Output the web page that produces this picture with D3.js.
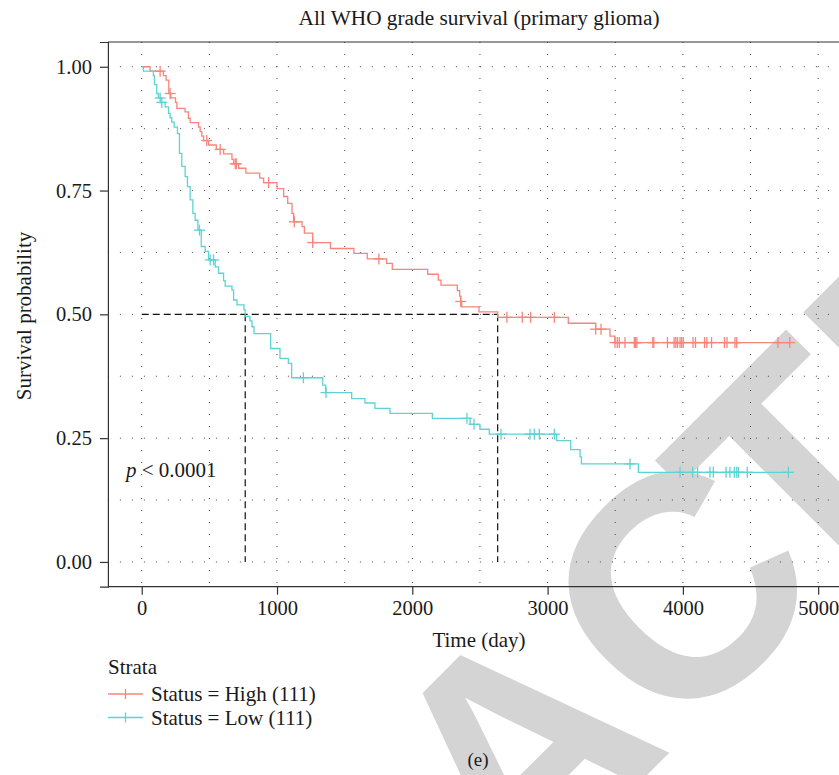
<!DOCTYPE html>
<html><head><meta charset="utf-8">
<script src="https://cdn.jsdelivr.net/npm/d3@7/dist/d3.min.js"></script>
<style>body{margin:0;background:#fff}svg{display:block}</style>
</head><body>
<svg id="chart" width="839" height="775"></svg>
<script>
// ---- data ----
const strata = ["Status = High (111)", "Status = Low (111)"];
const highTime = [0, 62, 160, 180, 200, 215, 250, 260, 320, 345, 358, 420, 432, 444, 457, 494, 551, 605, 667, 679, 716, 770, 872, 901, 1000, 1049, 1079, 1111, 1123, 1185, 1202, 1264, 1395, 1568, 1667, 1810, 1852, 2114, 2192, 2212, 2333, 2350, 2358, 2365, 2493, 2631, 3153, 3355, 3461, 3498];
const highSurv = [1, 0.991, 0.982, 0.973, 0.946, 0.937, 0.928, 0.916, 0.909, 0.896, 0.887, 0.878, 0.869, 0.860, 0.851, 0.842, 0.833, 0.824, 0.813, 0.804, 0.795, 0.785, 0.775, 0.766, 0.754, 0.738, 0.724, 0.704, 0.687, 0.677, 0.664, 0.645, 0.633, 0.623, 0.612, 0.603, 0.591, 0.581, 0.569, 0.559, 0.548, 0.537, 0.526, 0.515, 0.505, 0.494, 0.482, 0.470, 0.456, 0.443];
const highCensor = [136, 210, 481, 580, 691, 699, 938, 1128, 1264, 1753, 2358, 2699, 2813, 2875, 3050, 3355, 3395, 3498, 3515, 3530, 3572, 3641, 3650, 3660, 3778, 3785, 3886, 3935, 3948, 3960, 3979, 3991, 4003, 4075, 4093, 4160, 4177, 4212, 4307, 4326, 4385, 4398, 4703, 4790];
const lowTime = [0, 12, 86, 94, 111, 123, 143, 173, 198, 210, 222, 240, 264, 279, 296, 321, 338, 358, 378, 395, 415, 440, 469, 494, 543, 568, 605, 617, 667, 679, 704, 756, 765, 800, 815, 830, 953, 1022, 1084, 1108, 1338, 1360, 1552, 1650, 1724, 1835, 2148, 2427, 2500, 2569, 3067, 3171, 3240, 3250, 3671];
const lowSurv = [1, 0.991, 0.982, 0.964, 0.946, 0.937, 0.928, 0.919, 0.906, 0.897, 0.888, 0.878, 0.865, 0.825, 0.799, 0.778, 0.758, 0.731, 0.704, 0.690, 0.670, 0.637, 0.627, 0.610, 0.596, 0.583, 0.568, 0.557, 0.549, 0.529, 0.519, 0.509, 0.496, 0.487, 0.475, 0.461, 0.431, 0.411, 0.401, 0.372, 0.357, 0.342, 0.330, 0.321, 0.310, 0.300, 0.290, 0.278, 0.268, 0.258, 0.245, 0.227, 0.212, 0.198, 0.181];
const lowCensor = [136, 148, 427, 506, 531, 1195, 1362, 2404, 2456, 2656, 2870, 2902, 2939, 3050, 3609, 3979, 4072, 4109, 4200, 4225, 4319, 4348, 4380, 4398, 4410, 4476, 4780];
const medianTimes = [765, 2631];
const xTicks = [0, 1000, 2000, 3000, 4000, 5000];
const yTicks = [0, 0.25, 0.5, 0.75, 1];
const xGrid = [0, 500, 1000, 1500, 2000, 2500, 3000, 3500, 4000, 4500, 5000];
const yGrid = [0, 0.125, 0.25, 0.375, 0.5, 0.625, 0.75, 0.875, 1];
const colors = ["#F8847B", "#5FD2D4"];
const titleText = "All WHO grade survival (primary glioma)";
const pText = "< 0.0001";
const watermark = "RETRACTED";

// ---- drawing ----
const svg = d3.select("#chart");
const FONT = "'Liberation Serif', 'Times New Roman', serif";
const FS = 21;
const x = d3.scaleLinear().domain([-250, 5250]).range([107.9, 852]);
const y = d3.scaleLinear().domain([-0.05, 1.05]).range([586.7, 42]);

svg.append("rect").attr("width", 839).attr("height", 775).attr("fill", "#fff");

// watermark behind everything
svg.append("text")
  .attr("transform", "translate(-92,1514) rotate(-45)")
  .attr("font-family", "'Liberation Sans', Arial, sans-serif")
  .attr("font-weight", "bold")
  .attr("font-size", 315)
  .attr("dx", "0 0 0 0 0 0 -43 0 0")
  .attr("fill", "#d4d4d4")
  .text(watermark);

// grid
const g = svg.append("g");
g.selectAll(".vg").data(xGrid).join("line")
  .attr("x1", d => x(d)).attr("x2", d => x(d))
  .attr("y1", y(1.05)).attr("y2", y(-0.05))
  .attr("stroke", "#444").attr("stroke-width", 1).attr("stroke-dasharray", "1,11");
g.selectAll(".hg").data(yGrid).join("line")
  .attr("x1", x(-250)).attr("x2", 839)
  .attr("y1", d => y(d)).attr("y2", d => y(d))
  .attr("stroke", "#444").attr("stroke-width", 1).attr("stroke-dasharray", "1,11");

// median lines
const dash = "7,4";
svg.append("line").attr("x1", x(0)).attr("x2", x(d3.max(medianTimes)))
  .attr("y1", y(0.5)).attr("y2", y(0.5))
  .attr("stroke", "#111").attr("stroke-width", 1.2).attr("stroke-dasharray", dash);
svg.selectAll(".ml").data(medianTimes).join("line")
  .attr("x1", d => x(d)).attr("x2", d => x(d))
  .attr("y1", y(0.5)).attr("y2", y(0))
  .attr("stroke", "#111").attr("stroke-width", 1.2).attr("stroke-dasharray", dash);

// curves
function stepVal(times, surv, t) {
  let v = surv[0];
  for (let i = 0; i < times.length; i++) if (times[i] <= t) v = surv[i];
  return v;
}
const series = [
  {times: highTime, surv: highSurv, cens: highCensor, color: colors[0]},
  {times: lowTime, surv: lowSurv, cens: lowCensor, color: colors[1]}
];
const line = d3.line().x(d => x(d[0])).y(d => y(d[1])).curve(d3.curveStepAfter);
series.forEach(s => {
  const pts = s.times.map((t, i) => [t, s.surv[i]]);
  const tEnd = d3.max(s.cens);
  pts.push([tEnd, stepVal(s.times, s.surv, tEnd)]);
  svg.append("path").attr("d", line(pts)).attr("fill", "none")
    .attr("stroke", s.color).attr("stroke-width", 1.3);
  const cg = svg.append("g").attr("stroke", s.color).attr("stroke-width", 1.3);
  s.cens.forEach(t => {
    const cx = x(t), cy = y(stepVal(s.times, s.surv, t));
    cg.append("line").attr("x1", cx).attr("x2", cx).attr("y1", cy - 5.5).attr("y2", cy + 5.5);
    cg.append("line").attr("x1", cx - 5.5).attr("x2", cx + 5.5).attr("y1", cy).attr("y2", cy);
  });
});

// panel border / axes
svg.append("line").attr("x1", x(-250)).attr("x2", 839).attr("y1", y(1.05)).attr("y2", y(1.05))
  .attr("stroke", "#333").attr("stroke-width", 1.2);
const xAxis = d3.axisBottom(x).tickValues(xTicks).tickSize(8).tickPadding(6).tickFormat(d3.format("d"));
const yAxis = d3.axisLeft(y).tickValues(yTicks).tickSize(8).tickPadding(8).tickFormat(d3.format(".2f"));
const xa = svg.append("g").attr("transform", `translate(0,${y(-0.05)})`).call(xAxis);
const ya = svg.append("g").attr("transform", `translate(${x(-250)},0)`).call(yAxis);
[xa, ya].forEach(a => {
  a.select(".domain").attr("stroke", "#333").attr("stroke-width", 1.2);
  a.selectAll(".tick line").attr("stroke", "#333").attr("stroke-width", 1.2);
  a.selectAll("text").attr("font-family", FONT).attr("font-size", 20.5).attr("fill", "#1a1a1a");
});
xa.select(".domain").attr("d", `M${x(-250)},0H839`);

// titles
svg.append("text").attr("x", 479).attr("y", 25).attr("text-anchor", "middle")
  .attr("font-family", FONT).attr("font-size", 21.3).attr("fill", "#1a1a1a").text(titleText);
svg.append("text").attr("x", 479).attr("y", 647).attr("text-anchor", "middle")
  .attr("font-family", FONT).attr("font-size", FS).attr("fill", "#1a1a1a").text("Time (day)");
svg.append("text").attr("transform", "translate(31,316) rotate(-90)").attr("text-anchor", "middle")
  .attr("font-family", FONT).attr("font-size", FS).attr("fill", "#1a1a1a").text("Survival probability");

// p value
const pt = svg.append("text").attr("x", 126).attr("y", 477)
  .attr("font-family", FONT).attr("font-size", FS).attr("fill", "#1a1a1a");
pt.append("tspan").attr("font-style", "italic").text("p");
pt.append("tspan").text(" " + pText);

// legend
svg.append("text").attr("x", 108).attr("y", 674)
  .attr("font-family", FONT).attr("font-size", FS).attr("fill", "#1a1a1a").text("Strata");
strata.forEach((s, i) => {
  const ly = 694 + i * 23.5;
  svg.append("line").attr("x1", 108).attr("x2", 143).attr("y1", ly).attr("y2", ly)
    .attr("stroke", colors[i]).attr("stroke-width", 1.3);
  svg.append("line").attr("x1", 125.5).attr("x2", 125.5).attr("y1", ly - 5).attr("y2", ly + 5)
    .attr("stroke", colors[i]).attr("stroke-width", 1.3);
  svg.append("text").attr("x", 151).attr("y", ly + 7)
    .attr("font-family", FONT).attr("font-size", FS).attr("fill", "#1a1a1a").text(s);
});

svg.append("text").attr("x", 478).attr("y", 766).attr("text-anchor", "middle")
  .attr("font-family", FONT).attr("font-size", 19).attr("fill", "#1a1a1a").text("(e)");
</script>
</body></html>
